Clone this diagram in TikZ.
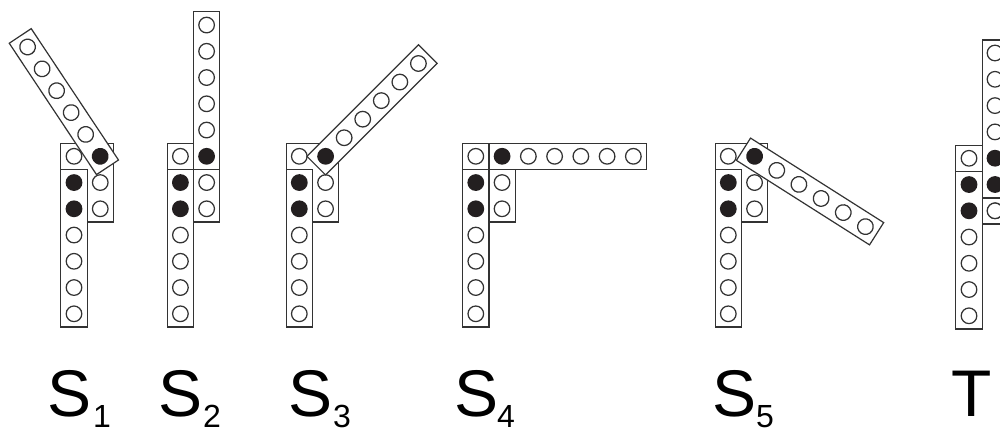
\documentclass[tikz,border=0pt]{standalone}
\usepackage{fontspec}
\setmainfont{Liberation Sans}
\definecolor{ink}{HTML}{333333}
\definecolor{dot}{HTML}{231F20}
\tikzset{
  x=1pt,y=-1pt,
  plate/.style={draw=ink,fill=white,line width=1.2pt},
  hole/.style={draw=ink,fill=white,line width=1.25pt},
  peg/.style={fill=dot},
  bigl/.style={inner sep=0pt,anchor=base west,font=\fontsize{66}{66}\selectfont,text=black},
  subl/.style={inner sep=0pt,anchor=base west,font=\fontsize{32}{32}\selectfont,text=black}
}
% base of a linkage: #1 = x of the left column, #2 = y of its top hole
\newcommand{\basepart}[2]{%
  \begin{scope}[shift={(#1,#2)}]
    \draw[plate] (-13.2,-13.2) rectangle (39.4,65.6);
    \draw[plate] (-13.2,13.1) rectangle (13.1,170.6);
    \draw[hole] (0,0) circle (7.8);
    \fill[peg] (0,26.25) circle (8.4);
    \fill[peg] (0,52.5) circle (8.4);
    \foreach \k in {3,4,5,6} \draw[hole] (0,\k*26.25) circle (7.8);
    \draw[hole] (26.25,26.25) circle (7.8);
    \draw[hole] (26.25,52.5) circle (7.8);
  \end{scope}}
% arm: #1,#2 = pivot, #3 = angle above horizontal
\newcommand{\armpart}[3]{%
  \begin{scope}[shift={(#1,#2)},rotate=#3]
    \draw[plate] (-13.2,-13.2) rectangle (144.5,13.2);
    \fill[peg] (0,0) circle (8.4);
    \foreach \k in {1,...,5} \draw[hole] (\k*26.25,0) circle (7.8);
  \end{scope}}
\newcommand{\pairlabel}[4]{%
  \node[bigl] (#4a) at (#1,416) {S};
  \node[subl] (#4b) at (#2,427.5) {#3};}
\begin{document}
\begin{tikzpicture}
\useasboundingbox (0,0) rectangle (1000,428);
\fill[white] (0,0) rectangle (1000,428);
\basepart{74}{156.3}
\armpart{100.2}{156.3}{123.6}
\basepart{180.4}{156.3}
\armpart{206.6}{156.3}{90}
\basepart{299.3}{156.3}
\armpart{325.6}{156.3}{45}
\basepart{475.8}{156.3}
\armpart{502.1}{156.3}{0}
\basepart{728.3}{156.3}
\armpart{754.6}{156.3}{-32.4}
% T: the arm slides down one hole
\begin{scope}
  \clip (0,0) rectangle (1000,428);
  \basepart{969}{158.3}
  \draw[plate] (982.2,40) rectangle (1009,198);
  \foreach \y in {53,79.3,105.6,131.9} \draw[hole] (995,\y) circle (7.8);
  \fill[peg] (995,158.2) circle (8.4);
  \fill[peg] (995,184.5) circle (8.4);
  \draw[hole] (995,210.8) circle (7.8);
\end{scope}
\pairlabel{47.5}{93}{1}{s1}
\pairlabel{158.5}{203}{2}{s2}
\pairlabel{288.5}{333}{3}{s3}
\pairlabel{454}{497}{4}{s4}
\pairlabel{712}{756}{5}{s5}
\node[bigl] (t) at (951.5,416) {T};
\end{tikzpicture}
\end{document}
